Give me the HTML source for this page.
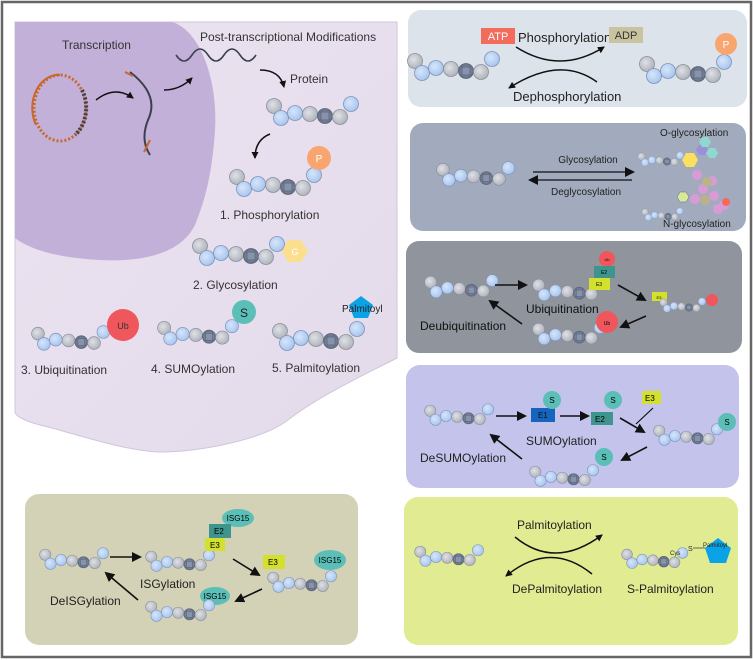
<!DOCTYPE html>
<html><head><meta charset="utf-8"><style>
html,body{margin:0;padding:0;background:#fff;}
svg{display:block;font-family:"Liberation Sans",sans-serif;}
</style></head><body>
<svg width="753" height="660" viewBox="0 0 753 660" xmlns="http://www.w3.org/2000/svg">
<defs>
<radialGradient id="gb" cx="0.4" cy="0.4" r="0.6"><stop offset="0" stop-color="#d6e6fb"/><stop offset="1" stop-color="#a9c6ef"/></radialGradient>
<radialGradient id="gg" cx="0.4" cy="0.4" r="0.6"><stop offset="0" stop-color="#dfe1e6"/><stop offset="1" stop-color="#b0b4bc"/></radialGradient>
<radialGradient id="gd" cx="0.5" cy="0.5" r="0.6"><stop offset="0" stop-color="#a0acc4"/><stop offset="1" stop-color="#556079"/></radialGradient>
<linearGradient id="cellg" x1="0" y1="0" x2="1" y2="1"><stop offset="0" stop-color="#ece3f1"/><stop offset="1" stop-color="#e3dbea"/></linearGradient>
<g id="ch">
<circle cx="7" cy="9" r="7.5" fill="url(#gg)" stroke="#8a909c" stroke-width="0.8"/>
<circle cx="14" cy="21" r="7.5" fill="url(#gb)" stroke="#7f93b8" stroke-width="0.8"/>
<circle cx="28" cy="16" r="7.5" fill="url(#gb)" stroke="#7f93b8" stroke-width="0.8"/>
<circle cx="43" cy="17" r="7.5" fill="url(#gg)" stroke="#8a909c" stroke-width="0.8"/>
<circle cx="58" cy="19" r="7.5" fill="url(#gd)" stroke="#5a6274" stroke-width="0.8"/>
<rect x="54" y="15" width="8" height="8" fill="#8793ab" stroke="#4f586c" stroke-width="0.6"/>
<circle cx="73" cy="20" r="7.5" fill="url(#gg)" stroke="#8a909c" stroke-width="0.8"/>
<circle cx="84" cy="7" r="7.5" fill="url(#gb)" stroke="#7f93b8" stroke-width="0.8"/>
</g>
<marker id="ah" markerWidth="10" markerHeight="10" refX="8" refY="5" orient="auto" markerUnits="userSpaceOnUse"><path d="M0,0 L10,5 L0,10 Z" fill="#111"/></marker>
<marker id="as" markerWidth="7" markerHeight="7" refX="6" refY="3.5" orient="auto" markerUnits="userSpaceOnUse"><path d="M0,0 L7,3.5 L0,7 Z" fill="#111"/></marker>
</defs>

<rect x="2" y="2" width="749" height="655" fill="#fff" stroke="#666" stroke-width="2.5"/>

<!-- cell -->
<path d="M15,22 L397,22 L397,358 C370,372 320,395 288,420 C262,440 200,452 158,452 C120,450 70,432 40,425 C25,421 15,416 15,412 Z" fill="url(#cellg)" stroke="#cfc6d8" stroke-width="1"/>
<path d="M15,22 L172,22 C200,30 218,80 215,130 C212,175 205,200 195,225 C180,255 140,262 100,260 C60,258 30,250 15,238 Z" fill="#c3b0d8"/>

<text x="62" y="49" font-size="12" fill="#333">Transcription</text>
<text x="200" y="41" font-size="12" fill="#333">Post-transcriptional Modifications</text>
<text x="290" y="83" font-size="12" fill="#333">Protein</text>

<!-- DNA ring -->
<ellipse cx="60" cy="108" rx="26" ry="33" fill="none" stroke="#c8672e" stroke-width="3" stroke-dasharray="2 2"/>
<path d="M60,75 A26,33 0 0 0 36,125" fill="none" stroke="#c8672e" stroke-width="2"/>
<path d="M82,90 A26,33 0 0 1 75,135" fill="none" stroke="#3a4050" stroke-width="4" stroke-dasharray="2 2"/>
<path d="M96,100 Q115,85 133,98" fill="none" stroke="#111" stroke-width="1.5" marker-end="url(#as)"/>
<path d="M130,72 Q160,95 148,120 Q140,140 150,155" fill="none" stroke="#3a4050" stroke-width="2"/>
<path d="M125,72 l8,4 M150,140 l-6,12" stroke="#c8672e" stroke-width="2"/>
<path d="M164,90 Q180,90 192,78" fill="none" stroke="#111" stroke-width="1.5" marker-end="url(#as)"/>
<path d="M176,55 q8,12 16,0 t16,0 t16,0 t16,0 t16,0" fill="none" stroke="#3a4050" stroke-width="1.6"/>
<path d="M260,70 Q280,70 284,87" fill="none" stroke="#111" stroke-width="1.5" marker-end="url(#as)"/>
<use href="#ch" transform="translate(267,97)"/>
<path d="M270,134 Q255,140 255,158" fill="none" stroke="#111" stroke-width="1.5" marker-end="url(#as)"/>
<use href="#ch" transform="translate(230,168)"/>
<circle cx="319" cy="158" r="12" fill="#f9a56f"/><text x="319" y="162" font-size="10" fill="#fff" text-anchor="middle">P</text>
<text x="220" y="219" font-size="12" fill="#333">1. Phosphorylation</text>
<use href="#ch" transform="translate(193,237)"/>
<polygon points="282,251 288,240 301,240 308,251 301,262 288,262" fill="#fbdf8e"/><text x="295" y="255" font-size="9" fill="#fff" text-anchor="middle">G</text>
<text x="193" y="289" font-size="12" fill="#333">2. Glycosylation</text>
<use href="#ch" transform="translate(32,326) scale(0.85)"/>
<circle cx="123" cy="325" r="16" fill="#f0575d"/><text x="123" y="329" font-size="9" fill="#333" text-anchor="middle">Ub</text>
<use href="#ch" transform="translate(158,320) scale(0.88)"/>
<circle cx="244" cy="312" r="12" fill="#5bbfb8"/><text x="244" y="317" font-size="12" fill="#222" text-anchor="middle">S</text>
<use href="#ch" transform="translate(273,322)"/>
<polygon points="361,296 373,305 368,318 354,318 349,305" fill="#0aa3e6"/>
<text x="342" y="312" font-size="10" fill="#222">Palmitoyl</text>
<text x="21" y="374" font-size="12" fill="#333">3. Ubiquitination</text>
<text x="151" y="373" font-size="12" fill="#333">4. SUMOylation</text>
<text x="272" y="372" font-size="12" fill="#333">5. Palmitoylation</text>

<!-- panel 1 -->
<rect x="408" y="10" width="339" height="97" rx="13" fill="#dde3ea"/>
<rect x="481" y="28" width="34" height="16" fill="#f26b5b"/><text x="498" y="40" font-size="11" fill="#fff" text-anchor="middle">ATP</text>
<text x="518" y="42" font-size="13" fill="#222">Phosphorylation</text>
<rect x="609" y="27" width="34" height="16" fill="#c9c3a0"/><text x="626" y="39" font-size="11" fill="#333" text-anchor="middle">ADP</text>
<path d="M516,47 Q560,75 604,47" fill="none" stroke="#111" stroke-width="1.5" marker-end="url(#as)"/>
<path d="M597,82 Q560,55 509,88" fill="none" stroke="#111" stroke-width="1.5" marker-end="url(#as)"/>
<text x="513" y="101" font-size="13" fill="#222">Dephosphorylation</text>
<use href="#ch" transform="translate(408,52)"/>
<use href="#ch" transform="translate(640,55)"/>
<circle cx="726" cy="44" r="11" fill="#f9a56f"/><text x="726" y="48" font-size="10" fill="#fff" text-anchor="middle">P</text>

<!-- panel 2 -->
<rect x="410" y="123" width="336" height="108" rx="13" fill="#a2abbd"/>
<use href="#ch" transform="translate(437,162) scale(0.85)"/>
<line x1="533" y1="172" x2="633" y2="172" stroke="#111" stroke-width="1.3" marker-end="url(#ah)"/>
<line x1="632" y1="180" x2="530" y2="180" stroke="#111" stroke-width="1.3" marker-end="url(#ah)"/>
<text x="588" y="163" font-size="10" fill="#222" text-anchor="middle">Glycosylation</text>
<text x="586" y="195" font-size="10" fill="#222" text-anchor="middle">Deglycosylation</text>
<text x="660" y="136" font-size="10" fill="#222">O-glycosylation</text>
<use href="#ch" transform="translate(638,152) scale(0.5)"/>
<polygon points="682,160 686,153 694,153 698,160 694,167 686,167" fill="#fbdf5e"/>
<polygon points="696,150 699,145 705,145 708,150 705,155 699,155" fill="#9b8fd8"/>
<polygon points="699,142 702,137 708,137 711,142 708,147 702,147" fill="#8fd8cf"/>
<polygon points="706,153 709,148 715,148 718,153 715,158 709,158" fill="#8fd8cf"/>
<use href="#ch" transform="translate(642,208) scale(0.45)"/>
<polygon points="677,197 680,192 686,192 689,197 686,202 680,202" fill="#d8e89a" stroke="#667" stroke-width="0.5"/>
<g fill="#d99ad8"><circle cx="697" cy="175" r="5"/><circle cx="712" cy="181" r="5"/><circle cx="703" cy="189" r="5"/><circle cx="695" cy="199" r="5"/><circle cx="714" cy="196" r="5"/><circle cx="724" cy="205" r="5"/><circle cx="718" cy="209" r="5"/></g>
<circle cx="707" cy="182" r="5" fill="#b8b38a"/><circle cx="705" cy="200" r="5" fill="#b8b38a"/><circle cx="726" cy="202" r="4" fill="#f26b5b"/>
<text x="663" y="227" font-size="10" fill="#222">N-glycosylation</text>

<!-- panel 3 -->
<rect x="406" y="241" width="336" height="112" rx="13" fill="#8f949d"/>
<use href="#ch" transform="translate(425,275) scale(0.8)"/>
<line x1="495" y1="285" x2="526" y2="285" stroke="#111" stroke-width="1.6" marker-end="url(#ah)"/>
<use href="#ch" transform="translate(533,278) scale(0.8)"/>
<circle cx="607" cy="259" r="8" fill="#f0575d"/><text x="607" y="261" font-size="4" text-anchor="middle">Ub</text>
<rect x="594" y="266" width="21" height="12" fill="#3e958d"/><text x="604" y="274" font-size="5" text-anchor="middle">E2</text>
<rect x="589" y="278" width="21" height="12" fill="#d3e02e"/><text x="599" y="286" font-size="5" text-anchor="middle">E3</text>
<text x="526" y="313" font-size="12" fill="#111">Ubiquitination</text>
<line x1="618" y1="285" x2="645" y2="300" stroke="#111" stroke-width="1.6" marker-end="url(#ah)"/>
<rect x="652" y="292" width="15" height="9" fill="#d3e02e"/><text x="659" y="299" font-size="4" text-anchor="middle">E3</text>
<use href="#ch" transform="translate(660,298) scale(0.5)"/>
<circle cx="712" cy="300" r="6" fill="#f0575d"/>
<line x1="646" y1="316" x2="621" y2="327" stroke="#111" stroke-width="1.6" marker-end="url(#ah)"/>
<use href="#ch" transform="translate(533,322) scale(0.8)"/>
<circle cx="607" cy="322" r="11" fill="#f0575d"/><text x="607" y="325" font-size="5" text-anchor="middle">Ub</text>
<line x1="522" y1="324" x2="490" y2="301" stroke="#111" stroke-width="1.6" marker-end="url(#ah)"/>
<text x="420" y="330" font-size="12" fill="#111">Deubiquitination</text>

<!-- panel 4 SUMO -->
<rect x="406" y="365" width="333" height="123" rx="14" fill="#c3c3eb"/>
<use href="#ch" transform="translate(425,404) scale(0.75)"/>
<line x1="496" y1="416" x2="525" y2="416" stroke="#111" stroke-width="1.6" marker-end="url(#ah)"/>
<rect x="531" y="408" width="24" height="14" fill="#1565c0"/><text x="538" y="418" font-size="8" fill="#111">E1</text>
<circle cx="552" cy="400" r="9" fill="#5bbfb8"/><text x="552" y="403" font-size="8" text-anchor="middle">S</text>
<line x1="560" y1="416" x2="588" y2="416" stroke="#111" stroke-width="1.6" marker-end="url(#ah)"/>
<rect x="591" y="412" width="22" height="13" fill="#3e958d"/><text x="595" y="422" font-size="8">E2</text>
<circle cx="613" cy="400" r="9" fill="#5bbfb8"/><text x="613" y="403" font-size="8" text-anchor="middle">S</text>
<rect x="642" y="391" width="19" height="13" fill="#d3e02e"/><text x="645" y="401" font-size="8">E3</text>
<line x1="653" y1="408" x2="636" y2="424" stroke="#111" stroke-width="1.2"/>
<line x1="620" y1="418" x2="644" y2="432" stroke="#111" stroke-width="1.6" marker-end="url(#ah)"/>
<use href="#ch" transform="translate(654,424) scale(0.75)"/>
<circle cx="727" cy="422" r="9" fill="#5bbfb8"/><text x="727" y="425" font-size="8" text-anchor="middle">S</text>
<text x="526" y="445" font-size="12" fill="#222">SUMOylation</text>
<line x1="647" y1="447" x2="622" y2="460" stroke="#111" stroke-width="1.6" marker-end="url(#ah)"/>
<use href="#ch" transform="translate(530,465) scale(0.75)"/>
<circle cx="604" cy="457" r="9" fill="#5bbfb8"/><text x="604" y="460" font-size="8" text-anchor="middle">S</text>
<line x1="522" y1="459" x2="491" y2="435" stroke="#111" stroke-width="1.6" marker-end="url(#ah)"/>
<text x="420" y="462" font-size="12" fill="#222">DeSUMOylation</text>

<!-- panel 5 palm -->
<rect x="404" y="497" width="334" height="148" rx="14" fill="#e1ec92"/>
<use href="#ch" transform="translate(415,545) scale(0.75)"/>
<text x="517" y="529" font-size="12" fill="#222">Palmitoylation</text>
<path d="M515,537 Q555,570 602,535" fill="none" stroke="#111" stroke-width="1.5" marker-end="url(#as)"/>
<path d="M592,574 Q550,540 506,576" fill="none" stroke="#111" stroke-width="1.5" marker-end="url(#as)"/>
<text x="512" y="593" font-size="12" fill="#222">DePalmitoylation</text>
<use href="#ch" transform="translate(622,548) scale(0.72)"/>
<text x="670" y="555" font-size="6" fill="#222">Cys</text>
<text x="688" y="551" font-size="7" fill="#222">S</text>
<line x1="693" y1="548" x2="706" y2="548" stroke="#333" stroke-width="0.7"/>
<polygon points="718,538 731,548 726,563 710,563 705,548" fill="#0aa3e6"/>
<text x="703" y="547" font-size="6" fill="#222">Palmitoyl</text>
<text x="627" y="593" font-size="12" fill="#222">S-Palmitoylation</text>

<!-- panel 6 ISG -->
<rect x="25" y="494" width="333" height="151" rx="14" fill="#d4d2b6"/>
<use href="#ch" transform="translate(40,548) scale(0.75)"/>
<line x1="110" y1="557" x2="140" y2="557" stroke="#111" stroke-width="1.6" marker-end="url(#ah)"/>
<use href="#ch" transform="translate(146,550) scale(0.75)"/>
<ellipse cx="238" cy="518" rx="16" ry="9" fill="#5bbfb8"/><text x="238" y="521" font-size="8" text-anchor="middle">ISG15</text>
<rect x="209" y="524" width="22" height="14" fill="#3e958d"/><text x="214" y="534" font-size="8">E2</text>
<rect x="205" y="538" width="20" height="13" fill="#d3e02e"/><text x="210" y="548" font-size="8">E3</text>
<text x="140" y="588" font-size="12" fill="#222">ISGylation</text>
<line x1="233" y1="559" x2="259" y2="575" stroke="#111" stroke-width="1.6" marker-end="url(#ah)"/>
<rect x="263" y="555" width="22" height="14" fill="#d3e02e"/><text x="268" y="565" font-size="8">E3</text>
<ellipse cx="330" cy="560" rx="16" ry="10" fill="#5bbfb8"/><text x="330" y="563" font-size="8" text-anchor="middle">ISG15</text>
<use href="#ch" transform="translate(268,571) scale(0.75)"/>
<line x1="262" y1="589" x2="236" y2="601" stroke="#111" stroke-width="1.6" marker-end="url(#ah)"/>
<ellipse cx="215" cy="596" rx="15" ry="9" fill="#5bbfb8"/><text x="215" y="599" font-size="8" text-anchor="middle">ISG15</text>
<use href="#ch" transform="translate(146,600) scale(0.75)"/>
<line x1="138" y1="600" x2="106" y2="573" stroke="#111" stroke-width="1.6" marker-end="url(#ah)"/>
<text x="50" y="605" font-size="12" fill="#222">DeISGylation</text>
</svg>
</body></html>
